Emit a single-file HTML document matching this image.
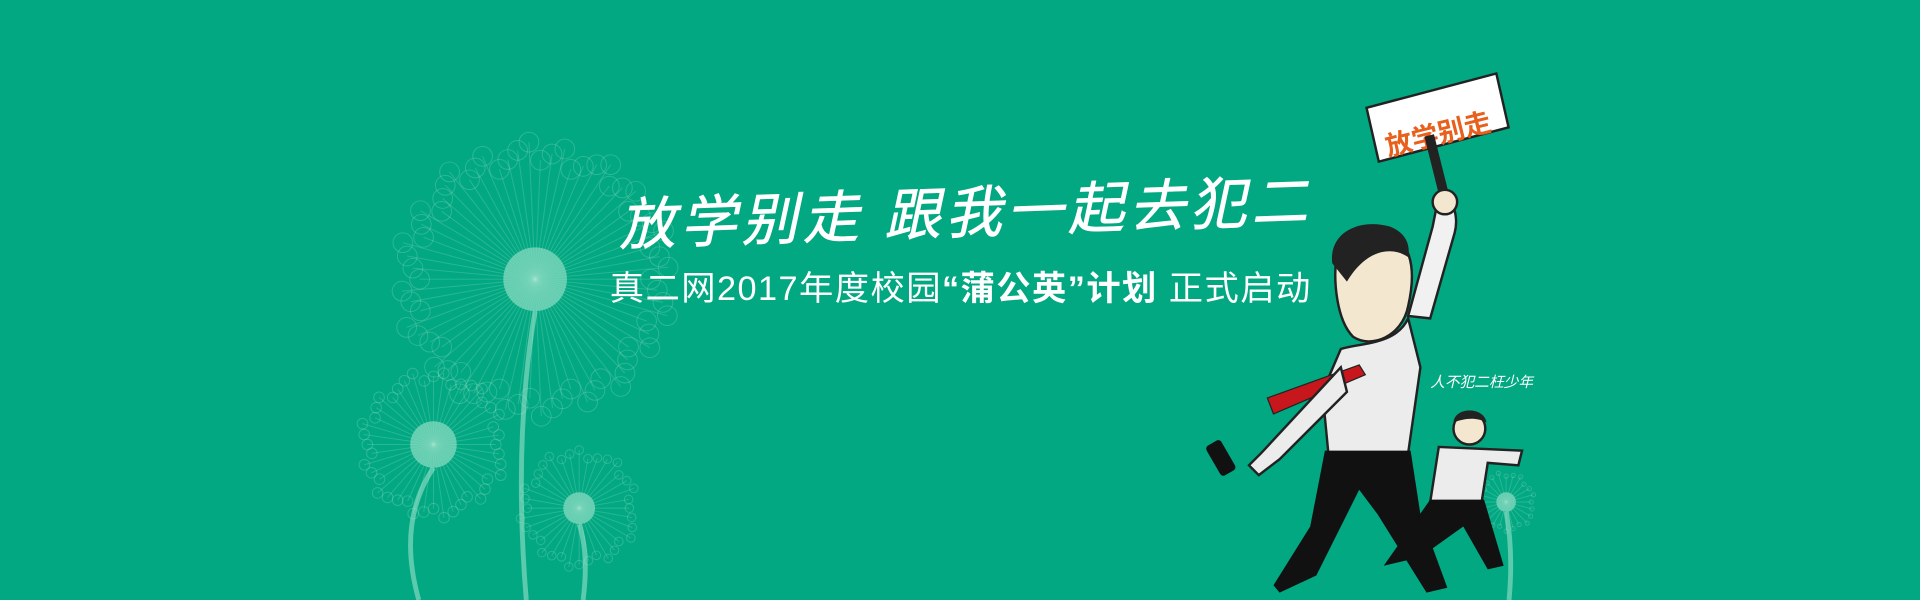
<!DOCTYPE html>
<html lang="zh">
<head>
<meta charset="utf-8">
<style>
  html,body{margin:0;padding:0;width:1920px;height:600px;overflow:hidden;background:#02a882;}
  svg{display:block;}
</style>
</head>
<body>
<svg id="banner" width="1920" height="600" viewBox="0 0 1568 490" xmlns="http://www.w3.org/2000/svg">
  <rect x="0" y="0" width="1568" height="490" fill="#02a882"/>
  <g id="dandelions"></g>

  <text x="505" y="190" fill="#ffffff" font-family="'Liberation Sans','Noto Sans CJK SC',sans-serif" font-size="46" font-style="italic" letter-spacing="4" stroke="#ffffff" stroke-width="0.6" transform="rotate(-2 790 170)">放学别走 跟我一起去犯二</text>
  <text x="498" y="245" fill="#ffffff" font-family="'Liberation Sans','Noto Sans CJK SC',sans-serif" font-size="28" textLength="572" lengthAdjust="spacing">真二网2017年度校园<tspan font-weight="bold">“蒲公英”计划</tspan> 正式启动</text>

  <g>
    <g>
      <polygon points="1116,88 1222,60 1232,104 1126,132" fill="#ffffff" stroke="#222" stroke-width="2"/>
      <text x="1128" y="118" fill="#e8601c" font-family="'Liberation Sans','Noto Sans CJK SC',sans-serif" font-size="22" font-weight="bold" transform="rotate(-14 1170 100)">放学别走</text>
      <rect x="1168" y="110" width="8" height="50" fill="#222" transform="rotate(-14 1172 130)"/>
    </g>
    <path d="M1175,160 C1185,158 1192,175 1188,190 L1168,260 L1150,258 L1170,185 Z" fill="#f1f1f1" stroke="#222" stroke-width="2"/>
    <circle cx="1180" cy="165" r="10" fill="#f3e7cf" stroke="#222" stroke-width="2"/>
    <path d="M1092,205 C1090,190 1110,182 1130,188 C1150,195 1158,215 1150,250 C1145,275 1120,285 1105,275 C1092,262 1088,230 1092,205 Z" fill="#f3e7cf" stroke="#222" stroke-width="2"/>
    <path d="M1088,215 C1085,190 1110,178 1135,185 C1148,190 1152,200 1150,210 C1135,200 1115,205 1100,230 Z" fill="#222"/>
    <path d="M1095,285 C1110,280 1140,282 1150,260 L1160,300 L1150,370 L1085,372 L1080,320 Z" fill="#ececec" stroke="#222" stroke-width="2"/>
    <path d="M1110,298 L1035,325 L1040,338 L1115,306 Z" fill="#c8161d" stroke="#222" stroke-width="1"/>
    <path d="M1095,300 L1030,370 L1020,380 L1028,388 L1045,375 L1100,320 Z" fill="#ececec" stroke="#222" stroke-width="2"/>
    <rect x="990" y="360" width="14" height="28" rx="3" fill="#111" transform="rotate(-30 997 374)"/>
    <path d="M1082,368 L1152,368 L1160,420 L1182,480 L1165,484 L1125,420 L1110,400 L1075,470 L1045,484 L1040,478 L1070,430 Z" fill="#111"/>
    <g>
      <circle cx="1200" cy="350" r="13" fill="#f3e7cf" stroke="#222" stroke-width="2"/>
      <path d="M1187,345 C1188,332 1212,332 1214,345 C1205,340 1195,342 1187,345 Z" fill="#222"/>
      <path d="M1175,365 L1243,368 L1240,380 L1215,378 L1210,410 L1168,410 Z" fill="#ececec" stroke="#222" stroke-width="2"/>
      <path d="M1168,408 L1212,408 L1228,462 L1215,465 L1195,430 L1160,455 L1130,462 Z" fill="#111"/>
    </g>
    <text x="1168" y="316" fill="#ffffff" font-family="'Liberation Sans','Noto Sans CJK SC',sans-serif" font-size="12" font-style="italic">人不犯二枉少年</text>
  </g>
</svg>
<script>
(function(){
  var ns = "http://www.w3.org/2000/svg";
  var g = document.getElementById('dandelions');
  function dandelion(cx, cy, core, radius, n, stemBottom, stemCurve){
    var stem = document.createElementNS(ns,'path');
    stem.setAttribute('d','M'+cx+','+(cy+core)+' Q'+(cx+stemCurve)+','+((cy+stemBottom)/2)+' '+(cx+stemCurve*0.4)+','+stemBottom);
    stem.setAttribute('stroke','rgba(180,235,215,0.5)');
    stem.setAttribute('stroke-width','4');
    stem.setAttribute('fill','none');
    
    
    g.appendChild(stem);
    for(var i=0;i<n;i++){
      var a = i/n*Math.PI*2;
      var r = radius*(0.82+0.18*((i*37)%7)/7);
      var x2 = cx+Math.cos(a)*r, y2 = cy+Math.sin(a)*r;
      var l = document.createElementNS(ns,'line');
      l.setAttribute('x1',cx);l.setAttribute('y1',cy);
      l.setAttribute('x2',x2);l.setAttribute('y2',y2);
      l.setAttribute('stroke','rgba(200,240,225,0.2)');
      l.setAttribute('stroke-width','0.8');
      
      
      g.appendChild(l);
      var c = document.createElementNS(ns,'circle');
      c.setAttribute('cx',x2);c.setAttribute('cy',y2);
      c.setAttribute('r',radius*0.07);
      c.setAttribute('fill','none');
      c.setAttribute('stroke','rgba(200,240,225,0.22)');
      c.setAttribute('stroke-width','0.8');
      
      
      g.appendChild(c);
    }
    var head = document.createElementNS(ns,'circle');
    head.setAttribute('cx',cx);head.setAttribute('cy',cy);head.setAttribute('r',core);
    head.setAttribute('fill','rgba(150,225,200,0.65)');
    
    
    g.appendChild(head);
  }
  dandelion(437,228,26,115,70,490,-18);
  dandelion(354,363,19,62,44,490,-30);
  dandelion(473,415,13,50,36,490,8);
  dandelion(1230,410,8,25,24,490,6);
})();
</script>
</body>
</html>
